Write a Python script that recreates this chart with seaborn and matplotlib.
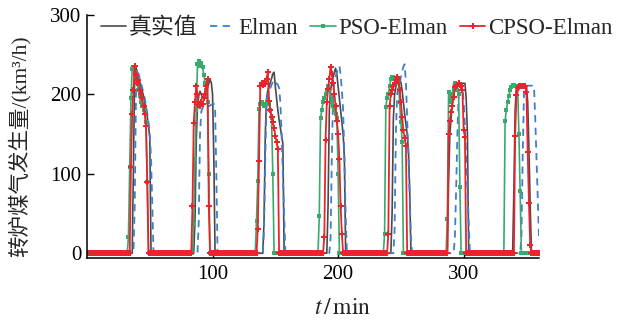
import numpy as np
import pandas as pd
import matplotlib
matplotlib.use("Agg")
import matplotlib.pyplot as plt
import seaborn as sns

sns.set_style("ticks")
plt.rcParams["font.family"] = ["Liberation Serif", "Noto Sans CJK SC", "DejaVu Sans"]
plt.rcParams["mathtext.fontset"] = "stix"

minutes = np.arange(0, 361)

# each cycle: first minute and the non-zero readings after it (1 min apart); zero elsewhere
real_start = [37, 86, 141, 192, 243, 288, 340]
real_cycles = [
    [110, 230, 234, 228, 222, 216, 210, 204, 198, 190, 182, 172, 160, 145],
    [40, 140, 185, 198, 204, 200, 196, 195, 198, 203, 208, 214, 218, 215, 200, 120],
    [40, 150, 195, 205, 210, 215, 220, 226, 228, 210, 195, 180, 168, 158, 148, 138],
    [60, 180, 205, 215, 222, 228, 233, 225, 210, 195, 180, 165, 150, 120],
    [50, 170, 200, 210, 215, 218, 220, 215, 205, 190, 175, 162, 150, 130, 80],
    [90, 150, 170, 190, 214, 214, 214, 214, 214, 214, 214, 214, 214, 214, 195, 150],
    [80, 180, 211, 211, 211, 211, 211, 211, 211, 211, 211, 190, 130, 60],
]

elman_start = [38, 89, 141, 194, 245, 293, 346]
elman_cycles = [
    [60, 200, 228, 226, 220, 214, 208, 202, 195, 186, 176, 165, 150, 120, 60],
    [40, 150, 178, 183, 185, 185, 186, 185, 185, 186, 187, 188, 188, 185, 100],
    [30, 120, 190, 200, 205, 208, 212, 216, 218, 216, 214, 212, 208, 190, 150, 100, 50],
    [20, 120, 200, 215, 222, 228, 232, 236, 225, 205, 180, 120, 50],
    [30, 150, 200, 210, 215, 222, 228, 235, 238, 215, 170, 120, 70, 20],
    [20, 80, 150, 200, 212, 214, 210, 190, 160, 120, 80, 40],
    [20, 120, 200, 211, 211, 211, 211, 211, 211, 211, 211, 170, 120, 70, 20],
]

pso_start = [33, 85, 135, 185, 237, 287, 333]
pso_cycles = [
    [20, 108, 195, 232, 234, 228, 222, 214, 205, 198, 190, 185, 180, 176, 165, 90],
    [37, 119, 180, 238, 242, 236, 240, 235, 225, 215, 205, 190, 100],
    [40, 91, 182, 188, 190, 188, 186, 188, 190, 192, 188, 180, 170, 100],
    [47, 170, 180, 191, 195, 200, 205, 210, 205, 198, 190, 185, 180, 175, 170, 100],
    [24, 184, 195, 200, 210, 219, 222, 222, 220, 220, 218, 215, 190, 165, 140],
    [43, 203, 190, 195, 200, 205, 214, 212, 205, 200, 83],
    [167, 180, 190, 198, 205, 209, 212, 212, 211, 210, 208, 150, 78],
]

cpso_start = [35, 84, 136, 189, 240, 288, 341]
cpso_cycles = [
    [108, 175, 206, 236, 225, 215, 218, 205, 200, 195, 185, 175, 160, 90],
    [59, 164, 190, 210, 200, 187, 185, 190, 188, 195, 200, 210, 219, 60],
    [30, 116, 210, 214, 212, 215, 213, 220, 228, 192, 180, 172, 165, 158, 148, 140, 131],
    [20, 143, 190, 207, 219, 235, 226, 215, 201, 185, 167, 150, 119, 60, 24],
    [24, 186, 200, 205, 210, 215, 218, 222, 220, 206, 190, 171, 155, 145, 135],
    [150, 167, 178, 186, 197, 209, 211, 212, 214, 212, 210, 205, 155, 147],
    [148, 199, 208, 211, 211, 211, 211, 211, 211, 203, 127, 63, 11],
]

labels = ["真实值", "Elman", "PSO-Elman", "CPSO-Elman"]


def build(starts, cycles):
    v = np.zeros(len(minutes))
    for s, seg in zip(starts, cycles):
        v[s:s + len(seg)] = seg
    return v


df = pd.DataFrame({
    "t": minutes,
    labels[0]: build(real_start, real_cycles),
    labels[1]: build(elman_start, elman_cycles),
    labels[2]: build(pso_start, pso_cycles),
    labels[3]: build(cpso_start, cpso_cycles),
})

styles = {
    labels[0]: dict(color="#4a4a4a", linestyle="-", marker=None, lw=1.2),
    labels[1]: dict(color="#3d7fcf", linestyle=(0, (4, 3)), marker=None, lw=1.3),
    labels[2]: dict(color="#3aa96e", linestyle="-", marker="s", markersize=3, lw=1.2),
    labels[3]: dict(color="#e8242c", linestyle="-", marker="P", markersize=4, lw=1.3),
}

fig = plt.figure(figsize=(6.19, 3.23), dpi=100)
ax = fig.add_axes([87 / 619, 1 - 258 / 323, (539 - 87) / 619, (258 - 15) / 323])

for name in labels:
    st = styles[name]
    sns.lineplot(data=df, x="t", y=name, ax=ax, label=name, estimator=None,
                 color=st["color"], linestyle=st["linestyle"], marker=st["marker"],
                 markersize=st.get("markersize", 0), linewidth=st["lw"],
                 markeredgewidth=0)

ax.set_xlim(0, 360)
ax.set_ylim(-6, 300)
ax.set_xticks([100, 200, 300])
ax.set_yticks([0, 100, 200, 300])
ax.tick_params(direction="in", length=5, width=1, labelsize=15, colors="black")
ax.tick_params(axis="x", pad=5)
ax.tick_params(axis="y", pad=4)
for side in ["top", "right"]:
    ax.spines[side].set_visible(False)
for side in ["left", "bottom"]:
    ax.spines[side].set_linewidth(1.1)
    ax.spines[side].set_color("black")

ax.set_xlabel(r"$t\,/\,\mathrm{min}$", fontsize=17)
ax.xaxis.set_label_coords(0.565, -0.165)
ax.set_ylabel("转炉煤气发生量/(km³/h)", fontsize=15.5)
ax.yaxis.set_label_coords(-0.125, 0.46)

handles, labs = ax.get_legend_handles_labels()
ax.get_legend().remove()
fig.legend(handles, labs, loc="center left", bbox_to_anchor=(101 / 619, 1 - 28 / 323),
           ncol=4, frameon=False, handlelength=1.1, handletextpad=0.12,
           columnspacing=0.55, borderpad=0, borderaxespad=0, fontsize=16.5)

fig.savefig("out.png", dpi=100)
